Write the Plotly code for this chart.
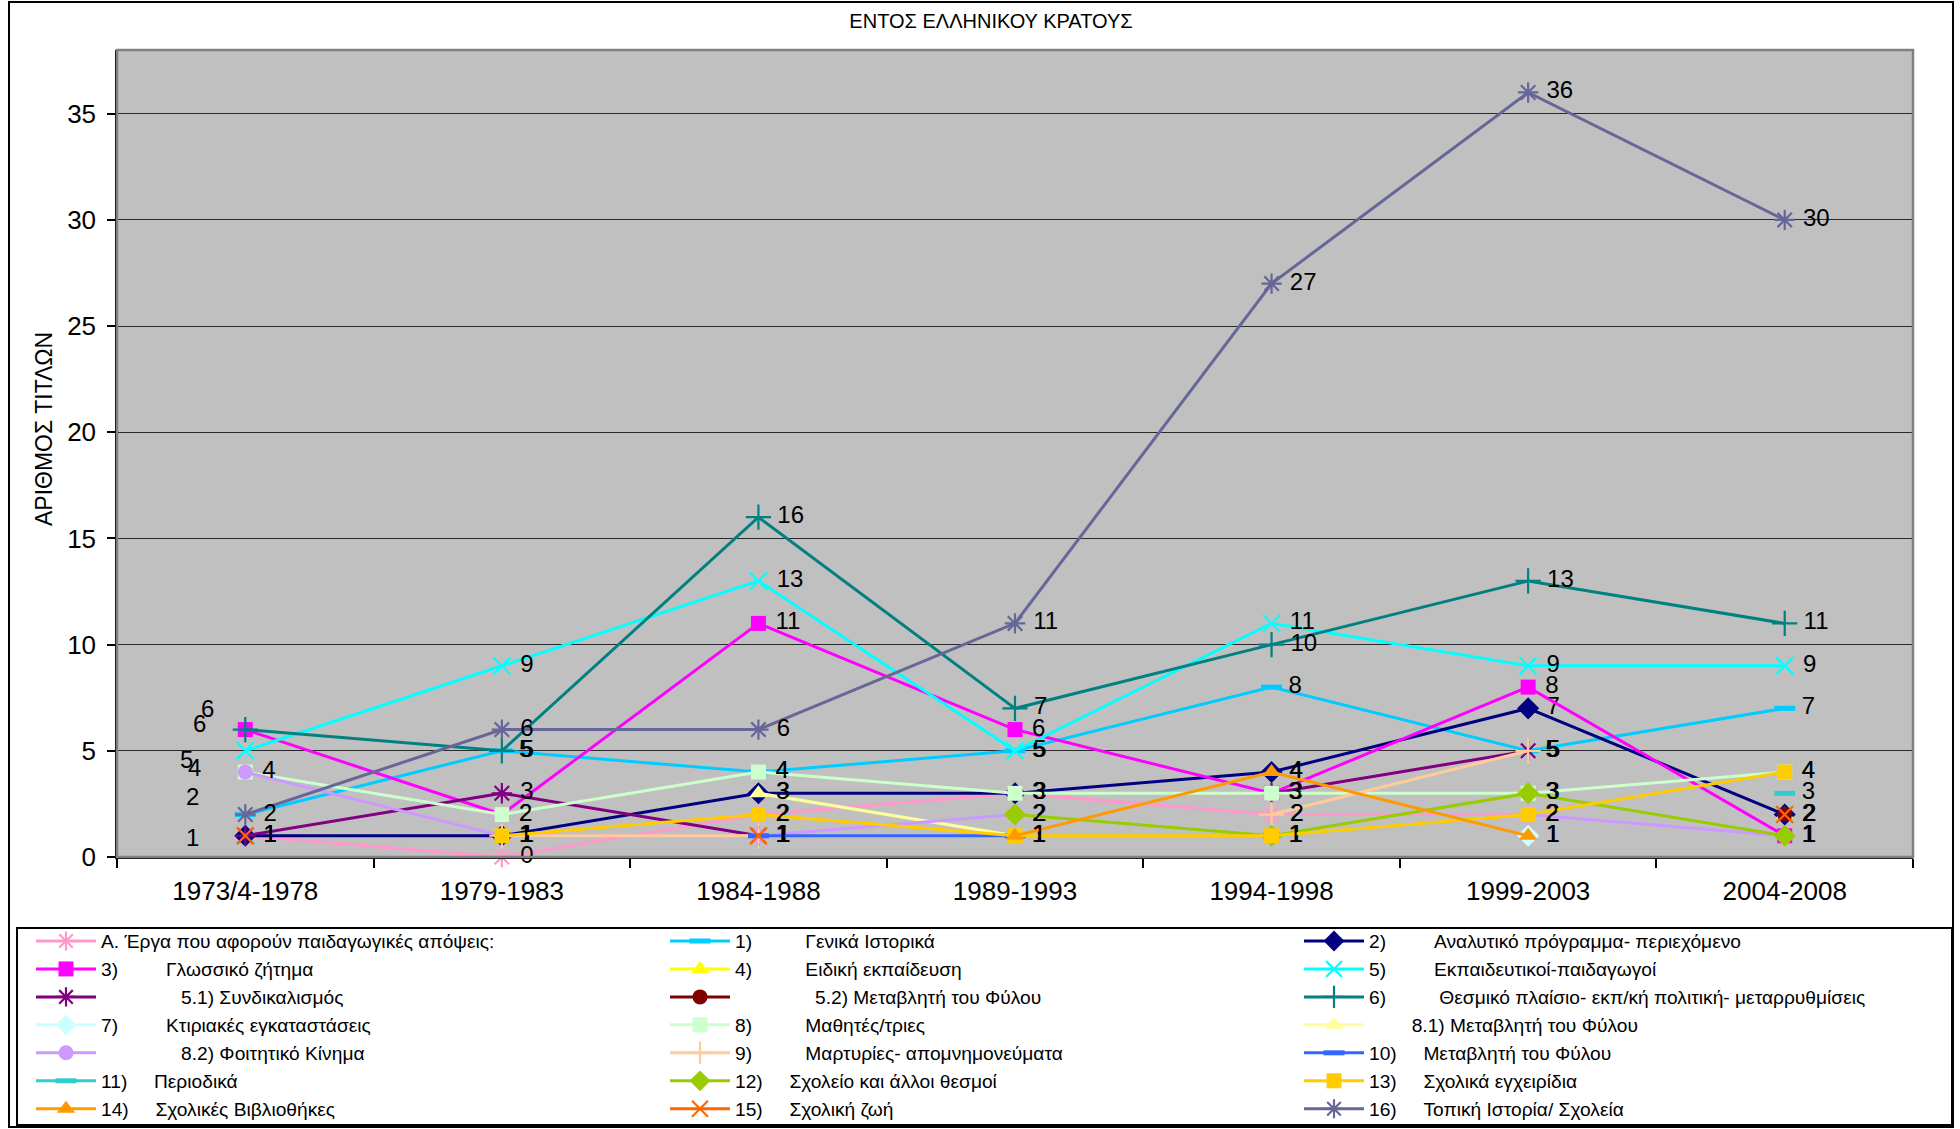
import plotly.graph_objects as go

# ---------------- data ----------------
categories = ["1973/4-1978", "1979-1983", "1984-1988", "1989-1993",
              "1994-1998", "1999-2003", "2004-2008"]

names = [
    "Α. Έργα που αφορούν παιδαγωγικές απόψεις:",
    "1)" + "\u00a0" * 10 + "Γενικά Ιστορικά",
    "2)" + "\u00a0" * 9 + "Αναλυτικό πρόγραμμα- περιεχόμενο",
    "3)" + "\u00a0" * 9 + "Γλωσσικό ζήτημα",
    "4)" + "\u00a0" * 10 + "Ειδική εκπαίδευση",
    "5)" + "\u00a0" * 9 + "Εκπαιδευτικοί-παιδαγωγοί",
    "\u00a0" * 15 + "5.1) Συνδικαλισμός",
    "\u00a0" * 15 + "5.2) Μεταβλητή του Φύλου",
    "6)" + "\u00a0" * 10 + "Θεσμικό πλαίσιο- εκπ/κή πολιτική- μεταρρυθμίσεις",
    "7)" + "\u00a0" * 9 + "Κτιριακές εγκαταστάσεις",
    "8)" + "\u00a0" * 10 + "Μαθητές/τριες",
    "\u00a0" * 8 + "8.1) Μεταβλητή του Φύλου",
    "\u00a0" * 15 + "8.2) Φοιτητικό Κίνημα",
    "9)" + "\u00a0" * 10 + "Μαρτυρίες- απομνημονεύματα",
    "10)" + "\u00a0" * 5 + "Μεταβλητή του Φύλου",
    "11)" + "\u00a0" * 5 + "Περιοδικά",
    "12)" + "\u00a0" * 5 + "Σχολείο και άλλοι θεσμοί",
    "13)" + "\u00a0" * 5 + "Σχολικά εγχειρίδια",
    "14)" + "\u00a0" * 5 + "Σχολικές Βιβλιοθήκες",
    "15)" + "\u00a0" * 5 + "Σχολική ζωή",
    "16)" + "\u00a0" * 5 + "Τοπική Ιστορία/ Σχολεία",
]

vals_A = [1, 0, 2, 3, 2, 2, None]
vals_1 = [2, 5, 4, 5, 8, 5, 7]
vals_2 = [1, 1, 3, 3, 4, 7, 2]
vals_3 = [6, 2, 11, 6, 3, 8, 1]
vals_4 = [None, None, None, None, None, None, 2]
vals_5 = [5, 9, 13, 5, 11, 9, 9]
vals_5_1 = [1, 3, 1, None, 3, 5, None]
vals_5_2 = [None, None, None, None, None, None, 2]
vals_6 = [6, 5, 16, 7, 10, 13, 11]
vals_7 = [None, None, None, None, None, 1, None]
vals_8 = [4, 2, 4, 3, 3, 3, 4]
vals_8_1 = [None, None, 3, 1, None, None, None]
vals_8_2 = [4, 1, 1, 2, None, 2, 1]
vals_9 = [None, 1, 1, None, 2, 5, None]
vals_10 = [None, None, 1, 1, None, None, None]
vals_11 = [None, None, None, None, None, None, 3]
vals_12 = [None, None, None, 2, 1, 3, 1]
vals_13 = [None, 1, 2, 1, 1, 2, 4]
vals_14 = [None, None, None, 1, 4, 1, None]
vals_15 = [1, None, 1, None, None, None, 2]
vals_16 = [2, 6, 6, 11, 27, 36, 30]

all_vals = [vals_A, vals_1, vals_2, vals_3, vals_4, vals_5, vals_5_1, vals_5_2,
            vals_6, vals_7, vals_8, vals_8_1, vals_8_2, vals_9, vals_10, vals_11,
            vals_12, vals_13, vals_14, vals_15, vals_16]

y_ticks = [0, 5, 10, 15, 20, 25, 30, 35]

# ---------------- styles ----------------
colors = ["#FF99CC", "#00CCFF", "#000080", "#FF00FF", "#FFFF00", "#00FFFF",
          "#800080", "#800000", "#008080", "#CCFFFF", "#CCFFCC", "#FFFF99",
          "#CC99FF", "#FFCC99", "#3366FF", "#33CCCC", "#99CC00", "#FFCC00",
          "#FF9900", "#FF6600", "#666699"]
symbols = ["asterisk-open", "line-ew-open", "diamond", "square", "triangle-up",
           "x-thin-open", "asterisk-open", "circle", "cross-thin-open", "diamond",
           "square", "triangle-up", "circle", "cross-thin-open", "line-ew-open",
           "line-ew-open", "diamond", "square", "triangle-up", "x-thin-open",
           "asterisk-open"]
sizes = {"asterisk-open": 17, "x-thin-open": 17, "cross-thin-open": 18,
         "line-ew-open": 15, "diamond": 17, "square": 15, "triangle-up": 16,
         "circle": 15}
open_sym = {"asterisk-open", "x-thin-open", "cross-thin-open", "line-ew-open"}

# series whose first-category label was dragged to the left (index: (xshift, yshift))
left_labels = {8: (-38, 21), 3: (-46, 6), 5: (-59, -9), 10: (-51, 5),
               1: (-53, 18), 0: (-53, -2)}

FONT = "Liberation Sans, Arial, sans-serif"
LFONT = 19.2

fig = go.Figure()
for i, (nm, v) in enumerate(zip(names, all_vals)):
    sym = symbols[i]
    txt = ["" if val is None else "\u00a0" + str(val) for val in v]
    if i in left_labels:
        txt[0] = ""
    if sym in open_sym:
        marker = dict(symbol=sym, size=sizes[sym], color=colors[i],
                      line=dict(color=colors[i], width=5 if sym == "line-ew-open" else 2.2))
    else:
        marker = dict(symbol=sym, size=sizes[sym], color=colors[i], line=dict(width=0))
    fig.add_trace(go.Scatter(
        x=categories, y=v, name=nm,
        mode="lines+markers+text", text=txt, textposition="middle right",
        textfont=dict(family=FONT, size=24, color="#000000"),
        line=dict(color=colors[i], width=3), marker=marker,
        cliponaxis=False,
    ))

annotations = []
for i, (xs, ys) in left_labels.items():
    v = all_vals[i][0]
    annotations.append(dict(x=categories[0], y=v, xref="x", yref="y", text=str(v),
                            showarrow=False, xshift=xs, yshift=ys,
                            font=dict(family=FONT, size=24, color="#000000")))

# geometry (pixels)
W, H = 1960, 1129
L, R, T, B = 117, 1913, 50, 857
pw, ph = R - L, B - T


def px(x):
    return (x - L) / pw


def py(y):
    return (B - y) / ph


# y-axis title
annotations.append(dict(x=px(44), y=py(429), xref="paper", yref="paper",
                        text="ΑΡΙΘΜΟΣ ΤΙΤΛΩΝ", textangle=-90, showarrow=False,
                        xanchor="center", yanchor="middle",
                        font=dict(family=FONT, size=23, color="#000000")))

shapes = [
    # outer chart frame
    dict(type="rect", xref="paper", yref="paper", x0=px(9), x1=px(1953),
         y0=py(1127), y1=py(2), line=dict(color="#000000", width=2), layer="below"),
    # plot-area border
    dict(type="rect", xref="paper", yref="paper", x0=0, x1=1, y0=0, y1=1,
         line=dict(color="#808080", width=2.5), layer="above"),
    # legend frame
    dict(type="rect", xref="paper", yref="paper", x0=px(17), x1=px(1952),
         y0=py(1125), y1=py(928), line=dict(color="#000000", width=2), layer="below"),
]

fig.update_layout(
    width=W, height=H,
    margin=dict(l=L, r=W - R, t=T, b=H - B, autoexpand=False),
    paper_bgcolor="#FFFFFF", plot_bgcolor="#C0C0C0",
    font=dict(family=FONT, color="#000000"),
    title=dict(text="ΕΝΤΟΣ ΕΛΛΗΝΙΚΟΥ ΚΡΑΤΟΥΣ", x=991 / W, xanchor="center",
               y=1 - 21 / H, yanchor="middle", xref="container", yref="container",
               font=dict(family=FONT, size=20, color="#000000")),
    xaxis=dict(type="category", categoryorder="array", categoryarray=categories,
               range=[-0.5, 6.5], showgrid=False, showline=True, linecolor="#000000",
               linewidth=2, ticks="outside", tickson="boundaries", ticklen=9,
               tickcolor="#000000", tickwidth=1.5,
               tickfont=dict(family=FONT, size=26, color="#000000"),
               ticklabelstandoff=10, zeroline=False),
    yaxis=dict(range=[0, 38], tickvals=y_ticks, showgrid=True, gridcolor="#2a2a2a",
               gridwidth=1.3, showline=True, linecolor="#000000", linewidth=1.5,
               ticks="outside", ticklen=8, tickcolor="#000000", tickwidth=1.5,
               tickfont=dict(family=FONT, size=26, color="#000000"),
               ticklabelstandoff=6, zeroline=False),
    showlegend=True,
    legend=dict(orientation="h", x=px(31), xanchor="left", y=py(922), yanchor="top",
                entrywidth=559, entrywidthmode="pixels", itemwidth=60,
                font=dict(family=FONT, size=LFONT, color="#000000"),
                bgcolor="rgba(0,0,0,0)", borderwidth=0, traceorder="normal",
                tracegroupgap=0, itemclick=False, itemdoubleclick=False),
    shapes=shapes,
    annotations=annotations,
)

fig.write_html("out.html", config={"displayModeBar": False},
               post_script="document.body.style.margin='0';document.body.style.overflow='hidden';")
